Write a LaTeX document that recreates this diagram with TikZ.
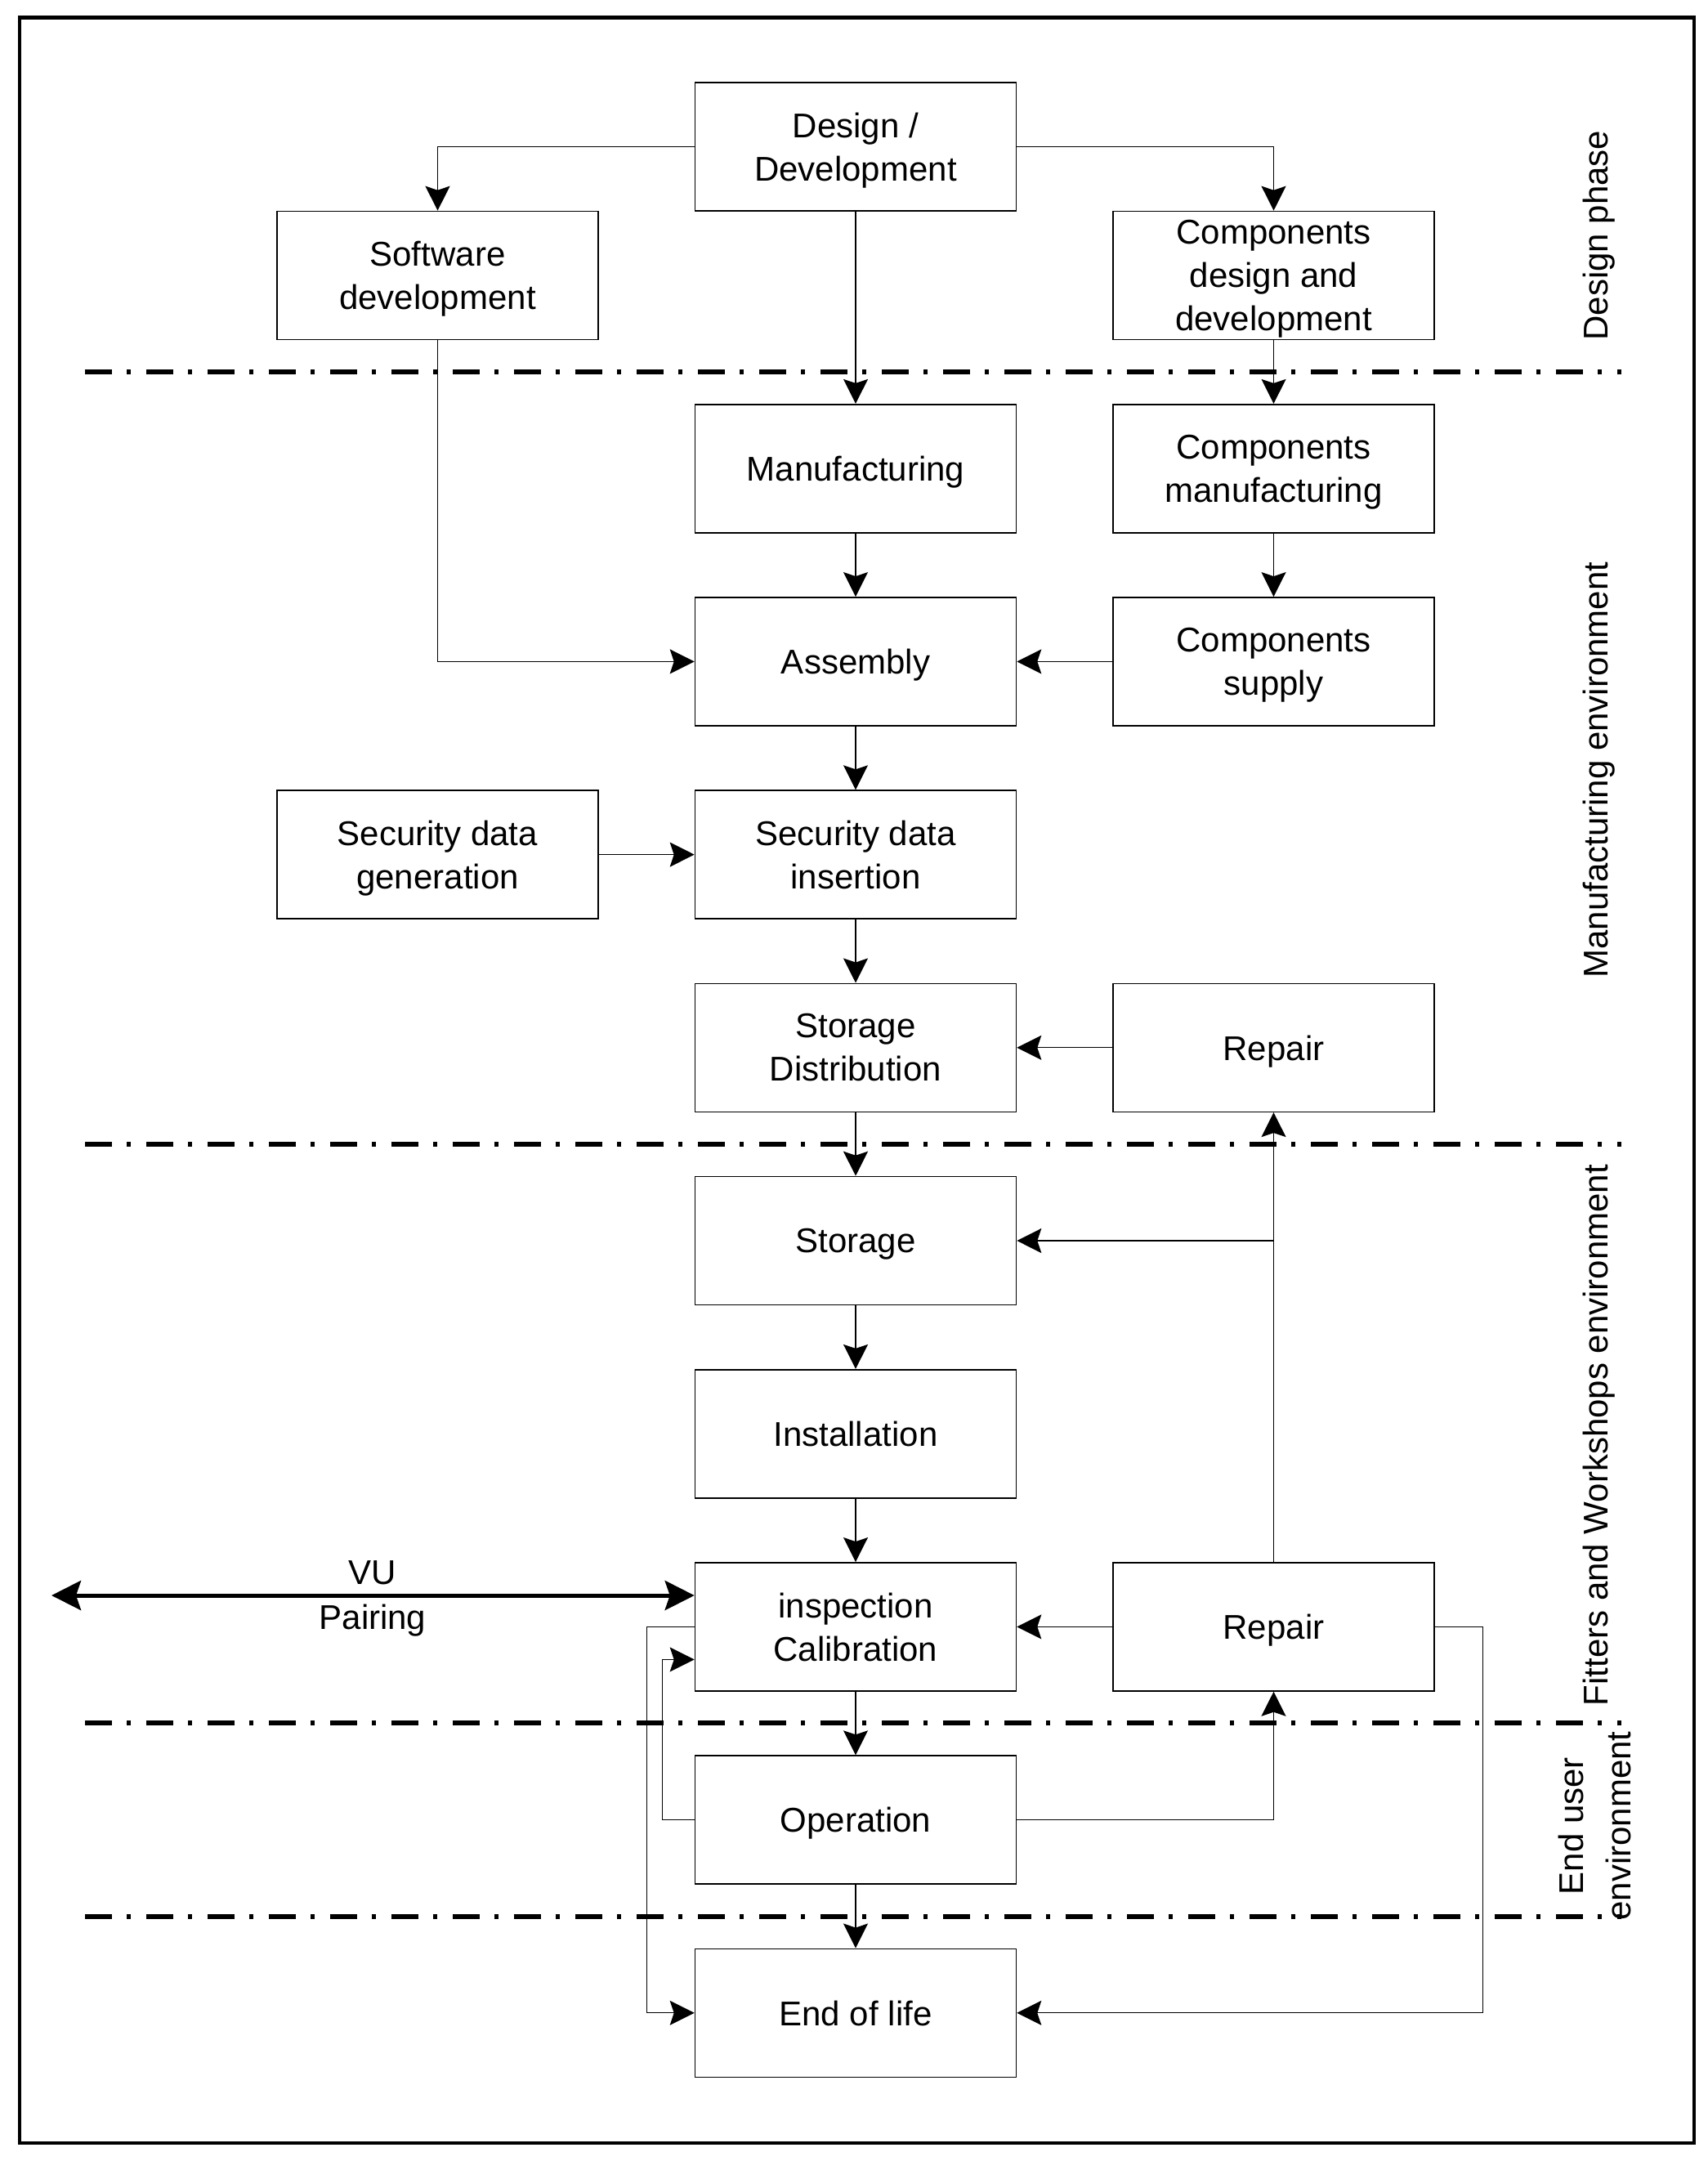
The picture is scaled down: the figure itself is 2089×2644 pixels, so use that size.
\documentclass[tikz,border=0pt]{standalone}
\usepackage{fontspec}
\setmainfont{Liberation Sans}
\usetikzlibrary{arrows.meta,calc}
\begin{document}
\begin{tikzpicture}[x=1pt,y=-1pt,
  box/.style={draw, line width=1.6pt, minimum width=393pt, minimum height=157pt, inner sep=0pt, text depth=0pt, align=center, font=\fontsize{42pt}{53pt}\selectfont},
  conn/.style={line width=1.3pt, -{Stealth[length=30pt,width=30pt,inset=5pt]}},
  sepline/.style={line width=5.5pt, dash pattern=on 33pt off 18pt on 5pt off 19pt},
  lbl/.style={font=\fontsize{42pt}{53pt}\selectfont, inner sep=0pt},
  side/.style={rotate=90, font=\fontsize{42pt}{58pt}\selectfont, align=center, inner sep=0pt}]

\useasboundingbox (0,0) rectangle (2089,2644);
\draw[line width=4.5pt] (24,21.5) rectangle (2073,2622);

% separators
\draw[sepline] (104,455) -- (1984,455);
\draw[sepline] (104,1400) -- (1984,1400);
\draw[sepline] (104,2108) -- (1984,2108);
\draw[sepline] (104,2345) -- (1984,2345);

% boxes
\node[box] (dd) at (1047,179.5) {Design /\\Development};
\node[box] (sw) at (535.5,337) {Software\\development};
\node[box] (cd) at (1558.5,337) {Components\\design and\\development};
\node[box] (mfg) at (1047,573.2) {Manufacturing};
\node[box] (cm) at (1558.5,573.2) {Components\\manufacturing};
\node[box] (asm) at (1047,809.4) {Assembly};
\node[box] (cs) at (1558.5,809.4) {Components\\supply};
\node[box] (sg) at (535.5,1045.6) {Security data\\generation};
\node[box] (si) at (1047,1045.6) {Security data\\insertion};
\node[box] (sd) at (1047,1281.8) {Storage\\Distribution};
\node[box] (rep1) at (1558.5,1281.8) {Repair};
\node[box] (sto) at (1047,1518) {Storage};
\node[box] (inst) at (1047,1754.2) {Installation};
\node[box] (ins) at (1047,1990.4) {inspection\\Calibration};
\node[box] (rep2) at (1558.5,1990.4) {Repair};
\node[box] (op) at (1047,2226.6) {Operation};
\node[box] (eol) at (1047,2462.8) {End of life};

% side labels
\node[side, anchor=base] (lab1) at (1967,288) {Design phase};
\node[side, anchor=base] (lab2) at (1967,942) {Manufacturing environment};
\node[side, anchor=base] (lab3) at (1967,1756) {Fitters and Workshops environment};
\node[side] (lab4) at (1951,2234) {End user\\environment};

% connectors
\draw[conn] (dd.west) -| (sw.north);
\draw[conn] (dd.east) -| (cd.north);
\draw[conn] (dd.south) -- (mfg.north);
\draw[conn] (cd.south) -- (cm.north);
\draw[conn] (sw.south) |- (asm.west);
\draw[conn] (mfg.south) -- (asm.north);
\draw[conn] (cm.south) -- (cs.north);
\draw[conn] (cs.west) -- (asm.east);
\draw[conn] (asm.south) -- (si.north);
\draw[conn] (sg.east) -- (si.west);
\draw[conn] (si.south) -- (sd.north);
\draw[conn] (rep1.west) -- (sd.east);
\draw[conn] (sd.south) -- (sto.north);
\draw[conn] (rep2.north) -- (rep1.south);
\coordinate (jn) at (rep2.north |- sto.east);
\draw[conn] (jn) -- (sto.east);
\draw[conn] (sto.south) -- (inst.north);
\draw[conn] (inst.south) -- (ins.north);
\draw[conn] (rep2.west) -- (ins.east);
\draw[conn] (ins.south) -- (op.north);
\draw[conn] (op.east) -| (rep2.south);
\draw[conn] (op.west) -- ++(-39,0) |- ($(ins.west)+(0,40)$);
\draw[conn] (ins.west) -- ++(-58,0) |- (eol.west);
\draw[conn] (op.south) -- (eol.north);
\draw[conn] (rep2.east) -- ++(59,0) |- (eol.east);

% VU pairing
\coordinate (vl) at (63,1952);
\draw[line width=5pt, {Stealth[length=36pt,width=36pt,inset=6pt]}-{Stealth[length=36pt,width=36pt,inset=6pt]}] (vl) -- (ins.west |- vl);
\node[lbl, anchor=base] (vu) at (456,1938) {VU};
\node[lbl, anchor=base] (pair) at (456,1993) {Pairing};
\end{tikzpicture}
\end{document}
